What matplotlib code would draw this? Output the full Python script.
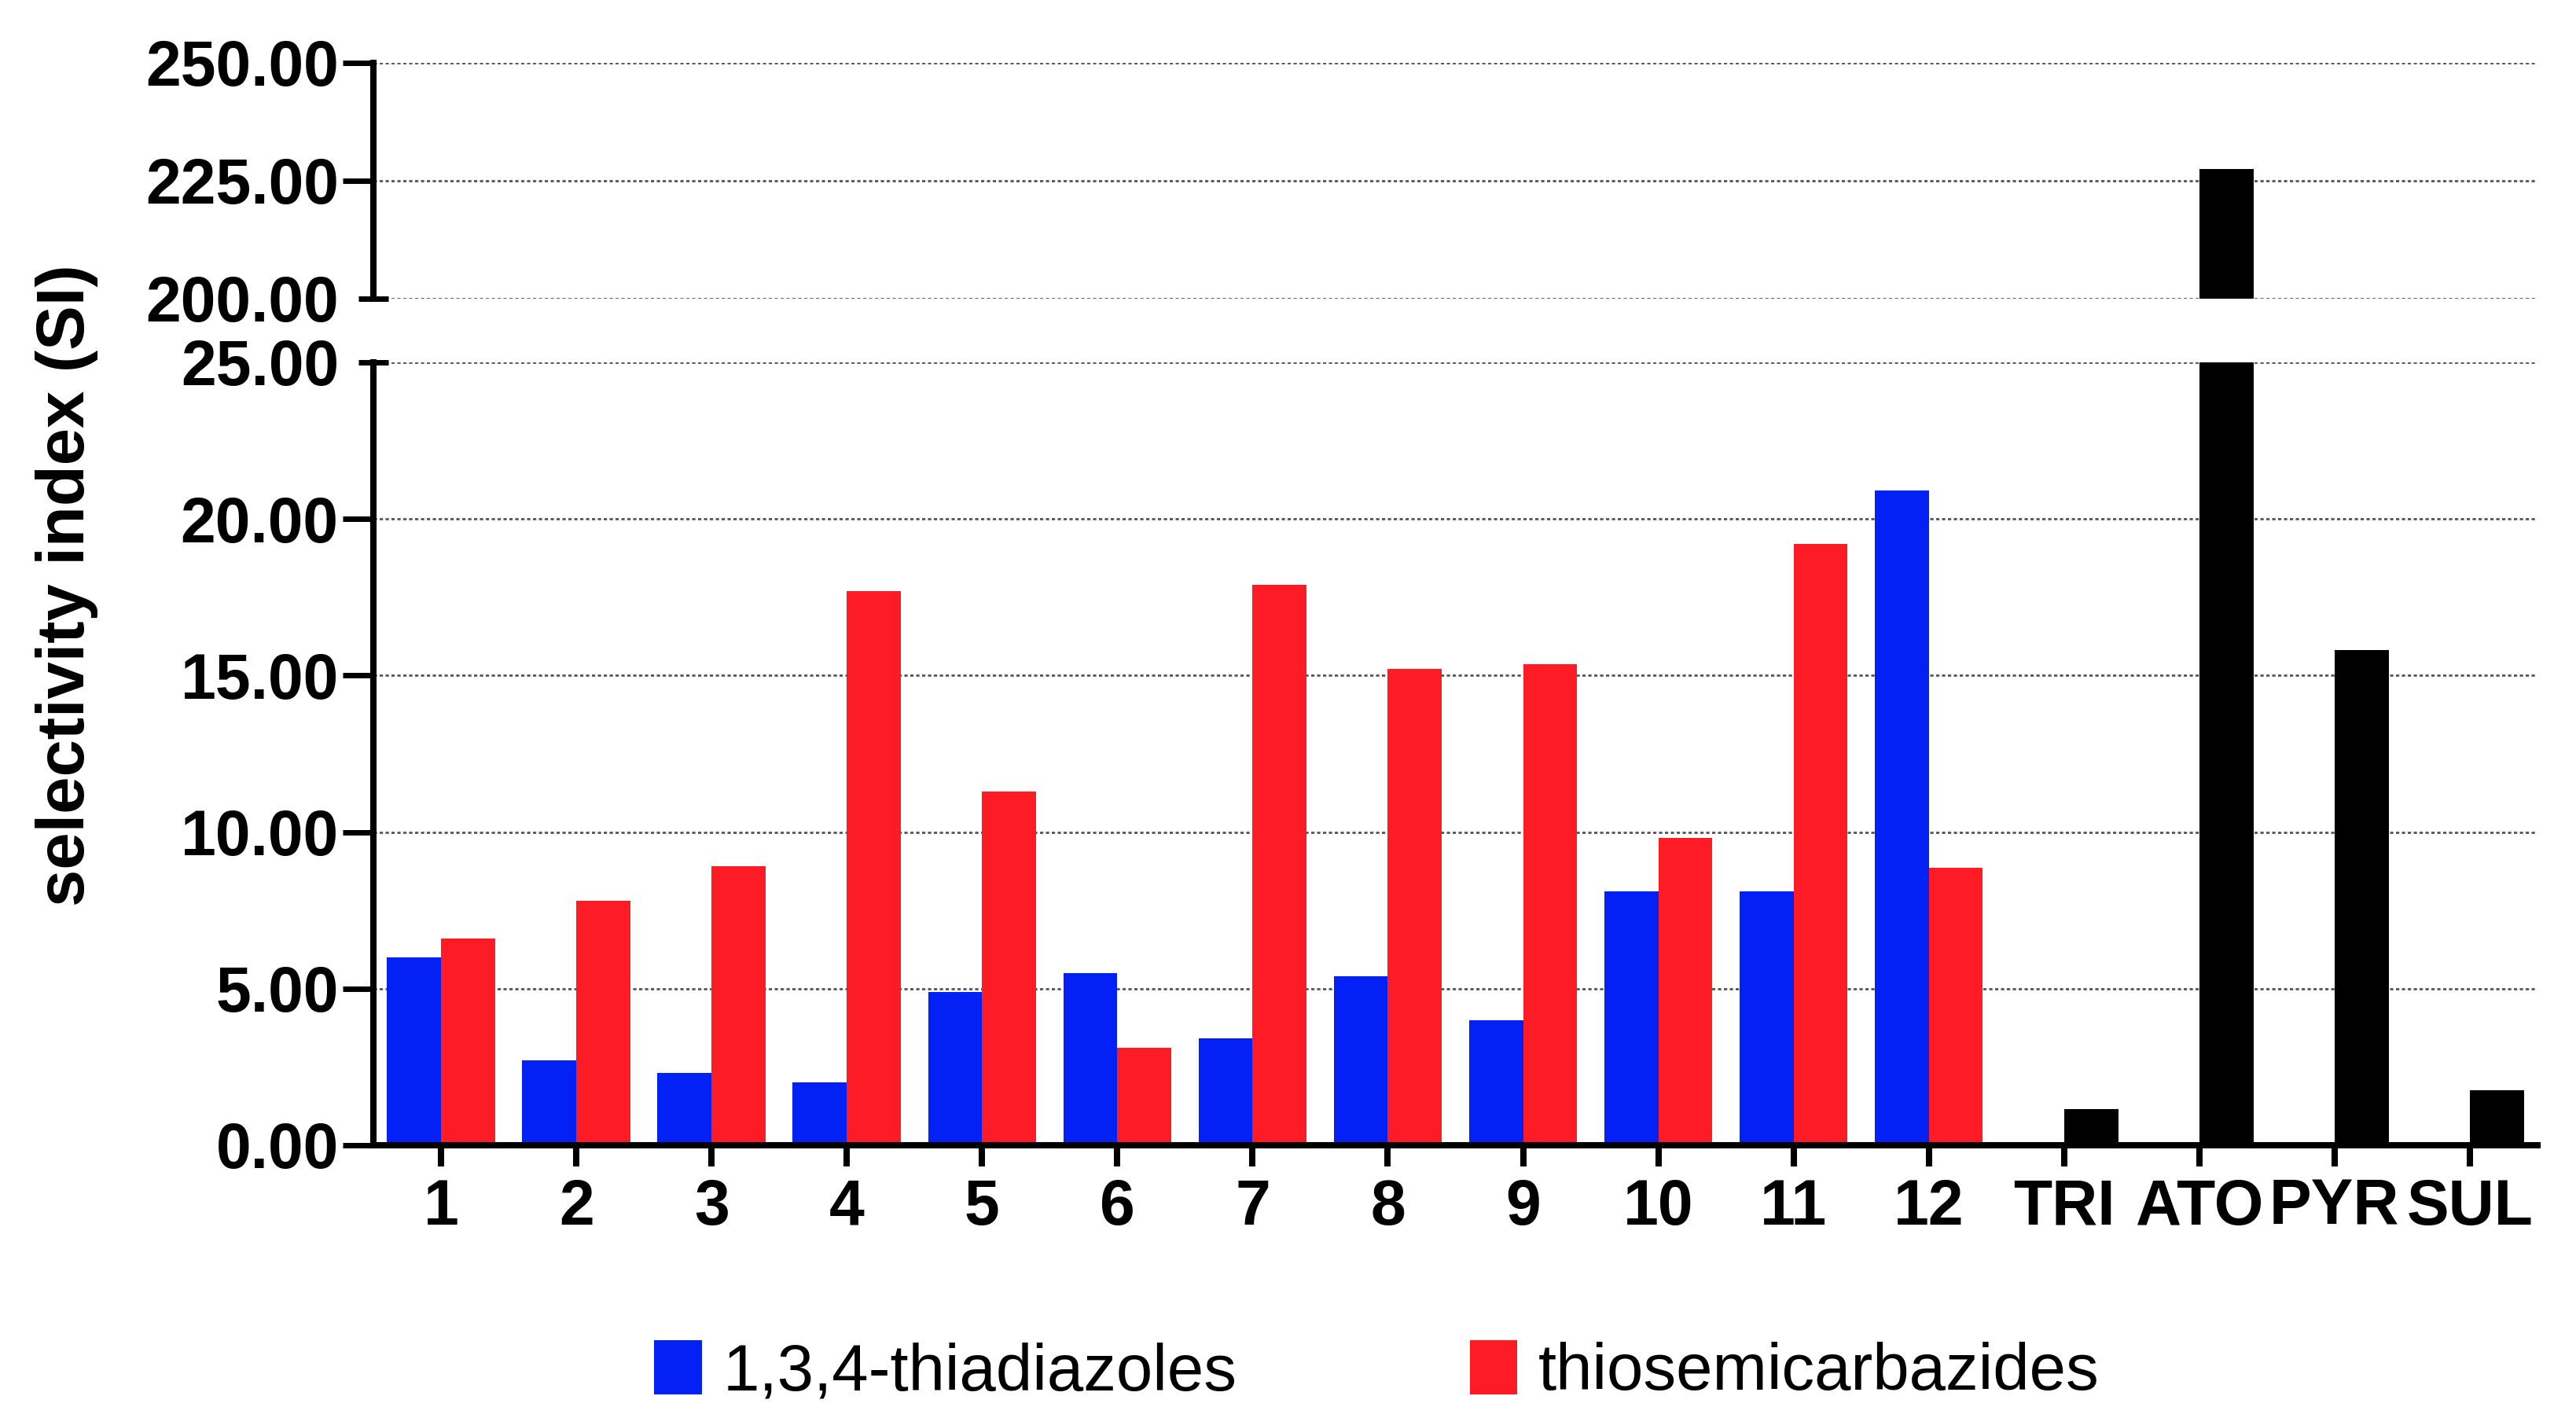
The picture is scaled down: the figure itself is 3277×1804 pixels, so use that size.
import numpy as np
import matplotlib
matplotlib.use("Agg")
import matplotlib.pyplot as plt
from matplotlib.patches import Patch

plt.rcParams["font.family"] = ["Liberation Sans", "DejaVu Sans"]

# data
categories = ["1", "2", "3", "4", "5", "6", "7", "8", "9", "10", "11", "12",
              "TRI", "ATO", "PYR", "SUL"]
thiadiazoles = [6.0, 2.7, 2.3, 2.0, 4.9, 5.5, 3.4, 5.4, 4.0, 8.1, 8.1, 20.9]
thiosemicarbazides = [6.6, 7.8, 8.9, 17.7, 11.3, 3.1, 17.9, 15.2, 15.35, 9.8, 19.2, 8.85]
references = [1.15, 227.5, 15.8, 1.75]

blue = "#0320F5"
red = "#FD1B26"

x = np.arange(len(categories))
n_cmp = len(thiadiazoles)
width = 0.4

fig = plt.figure(figsize=(16.385, 9.02), dpi=200)
ax_top = fig.add_axes([0.145, 0.7894, 0.84, 0.1663])
ax_bot = fig.add_axes([0.145, 0.1924, 0.84, 0.5521])

for ax in (ax_top, ax_bot):
    ax.bar(x[:n_cmp], thiadiazoles, width=-width, align="edge", color=blue, zorder=2)
    ax.bar(x[:n_cmp], thiosemicarbazides, width=width, align="edge", color=red, zorder=2)
    ax.bar(x[n_cmp:], references, width=width, align="edge", color="black", zorder=2)
    ax.set_xlim(-0.5, len(categories) - 0.5)
    ax.set_axisbelow(True)
    ax.grid(axis="y", which="both", linestyle=(0, (1.5, 1.2)), linewidth=1.0, color="#555555")
    ax.spines["top"].set_visible(False)
    ax.spines["right"].set_visible(False)
    ax.spines["left"].set_linewidth(2.9)
    ax.yaxis.set_major_formatter(plt.FormatStrFormatter("%.2f"))
    ax.yaxis.set_minor_formatter(plt.FormatStrFormatter("%.2f"))
    ax.tick_params(axis="y", which="major", direction="out", length=14, width=2.5,
                   pad=2, labelsize=29)
    ax.tick_params(axis="y", which="minor", direction="inout", length=13.7, width=2.5,
                   pad=9, labelsize=29)

# upper segment
ax_top.set_ylim(200, 250)
ax_top.set_yticks([225, 250])
ax_top.set_yticks([200], minor=True)
ax_top.spines["bottom"].set_visible(False)
ax_top.tick_params(axis="x", which="both", bottom=False, labelbottom=False)
for lbl in ax_top.get_yticklabels(which="both"):
    lbl.set_fontweight("bold")

# lower segment
ax_bot.set_ylim(0, 25)
ax_bot.set_yticks([0, 5, 10, 15, 20])
ax_bot.set_yticks([25], minor=True)
ax_bot.spines["bottom"].set_linewidth(2.9)
ax_bot.set_xticks(x)
ax_bot.set_xticklabels(categories, fontsize=29, fontweight="bold")
ax_bot.tick_params(axis="x", direction="out", length=9.7, width=2.9, pad=5.4)
for lbl in ax_bot.get_yticklabels(which="both"):
    lbl.set_fontweight("bold")

fig.text(0.026, 0.5875, "selectivity index (SI)", rotation=90, fontsize=30.6,
         fontweight="bold", ha="center", va="center")

handles = [Patch(facecolor=blue, edgecolor="none", label="1,3,4-thiadiazoles"),
           Patch(facecolor=red, edgecolor="none", label="thiosemicarbazides")]
fig.legend(handles=handles, loc="center", bbox_to_anchor=(0.5345, 0.0327), ncol=2,
           frameon=False, fontsize=30, handlelength=0.73, handleheight=0.91,
           handletextpad=0.32, columnspacing=3.55, borderpad=0)

fig.savefig("out.png", dpi=200)
